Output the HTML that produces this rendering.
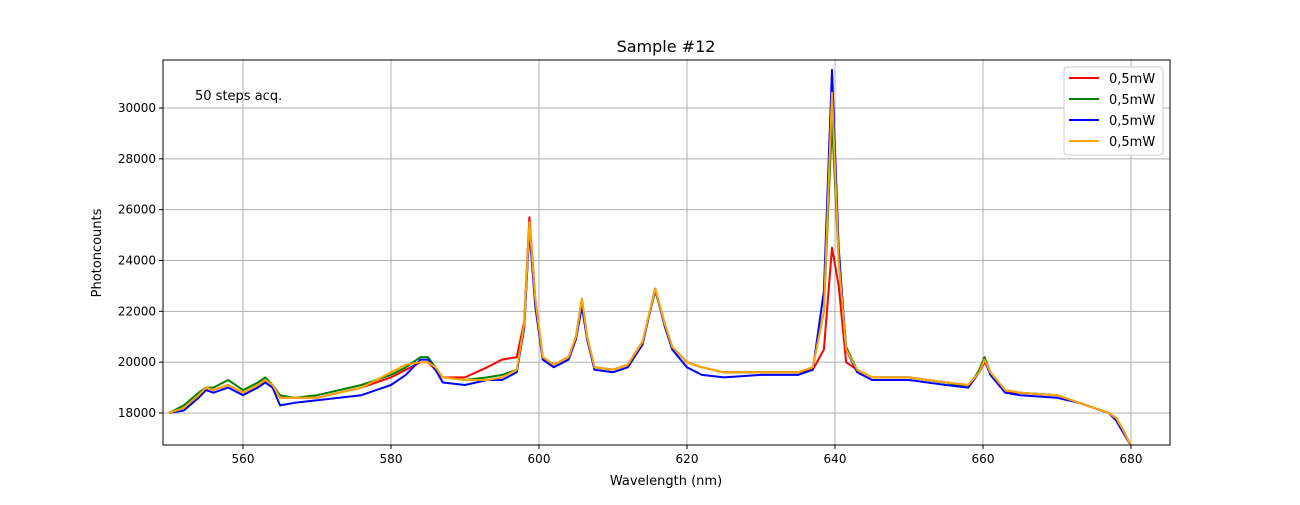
<!DOCTYPE html>
<html><head><meta charset="utf-8"><style>
body{margin:0;background:#fff;font-family:"Liberation Sans","DejaVu Sans",sans-serif}
svg text{font-family:"DejaVu Sans","Liberation Sans",sans-serif}
</style></head><body>
<svg id="chart" width="1300" height="500">
<rect x="0" y="0" width="1300" height="500" fill="#fff"/>
<g id="grid"></g><g id="series"></g><g id="axes"></g>
<text x="666" y="52" font-size="16" text-anchor="middle">Sample #12</text>
<text x="666" y="485" font-size="13" text-anchor="middle">Wavelength (nm)</text>
<text x="101" y="253" font-size="13" text-anchor="middle" transform="rotate(-90 101 253)">Photoncounts</text>
<text x="195" y="100" font-size="13">50 steps acq.</text>
<g id="legend"></g>
</svg>
<script>
const wl=[550,552,554,555,556,558,560,562,563,564,565,567,570,573,576,578,580,582,584,585,586,587,590,593,595,597,598,598.7,599.5,600.5,602,604,605,605.8,606.5,607.5,610,612,614,615.7,617,618,620,622,625,630,635,637,638.5,639.6,640.5,641.5,643,645,650,655,658,659.5,660.2,661,663,665,670,673,675,677,678,679,680];
const redVals=[18000,18200,18700,19000,18900,19100,18800,19100,19300,19100,18600,18600,18600,18800,19000,19200,19400,19700,20000,20000,19700,19400,19400,19800,20100,20200,21600,25700,22500,20200,19900,20200,21000,22400,21000,19800,19700,19900,20800,22900,21500,20600,20000,19800,19600,19600,19600,19700,20500,24500,23000,20000,19700,19400,19400,19200,19100,19600,20000,19600,18800,18800,18700,18400,18200,18000,17800,17300,16700];
const greenVals=[18000,18300,18800,19000,19000,19300,18900,19200,19400,19100,18700,18600,18700,18900,19100,19300,19500,19800,20200,20200,19800,19400,19300,19400,19500,19700,21300,25400,22300,20200,19900,20200,21000,22500,21000,19800,19700,19900,20800,22800,21500,20600,20000,19800,19600,19600,19600,19800,22000,29500,24000,20600,19700,19400,19400,19200,19000,19700,20200,19600,18900,18800,18700,18400,18200,18000,17800,17300,16700];
const blueVals=[18000,18100,18600,18900,18800,19000,18700,19000,19200,19000,18300,18400,18500,18600,18700,18900,19100,19500,20100,20100,19700,19200,19100,19300,19300,19600,21400,25200,22200,20100,19800,20100,20900,22200,20900,19700,19600,19800,20700,22900,21400,20500,19800,19500,19400,19500,19500,19700,22800,31500,24500,20500,19600,19300,19300,19100,19000,19600,20100,19500,18800,18700,18600,18400,18200,18000,17700,17200,16700];
const orangeVals=[18000,18200,18700,19000,18900,19100,18800,19100,19300,19100,18600,18600,18600,18800,19000,19300,19600,19900,20000,20000,19800,19400,19300,19300,19400,19700,21500,25500,22500,20200,19900,20200,21000,22500,21000,19800,19700,19900,20800,22900,21500,20600,20000,19800,19600,19600,19600,19800,22000,30600,24000,20500,19700,19400,19400,19200,19100,19600,20100,19600,18900,18800,18700,18400,18200,18000,17800,17300,16700];
const seriesNames=["0,5mW","0,5mW","0,5mW","0,5mW"];
const seriesColors=["red","green","blue","orange"];
const xTicks=[560,580,600,620,640,660,680];
const yTicks=[18000,20000,22000,24000,26000,28000,30000];
const L=163,R=1170,T=60,B=445;
const X=v=>243+(v-560)*(1131-243)/120;
const Y=v=>413-(v-18000)*(413-108)/12000;
const NS="http://www.w3.org/2000/svg";
function mk(t,a,p){const e=document.createElementNS(NS,t);for(const k in a)e.setAttribute(k,a[k]);p.appendChild(e);return e;}
const grid=document.getElementById('grid'),axes=document.getElementById('axes'),ser=document.getElementById('series'),leg=document.getElementById('legend');
xTicks.forEach(t=>{const x=X(t);
const g=mk('line',{x1:x,x2:x,y1:T,y2:B,stroke:'#b0b0b0','stroke-width':1},grid);


mk('line',{x1:x,x2:x,y1:B,y2:B+4,stroke:'#000'},axes);
const tx=mk('text',{x:x,y:B+18,'font-size':12,'text-anchor':'middle'},axes);tx.textContent=t;

});
yTicks.forEach(t=>{const y=Y(t);
const g=mk('line',{x1:L,x2:R,y1:y,y2:y,stroke:'#b0b0b0','stroke-width':1},grid);


mk('line',{x1:L-4,x2:L,y1:y,y2:y,stroke:'#000'},axes);
const tx=mk('text',{x:L-7,y:y+4,'font-size':12,'text-anchor':'end'},axes);tx.textContent=t;

});
const fr=mk('rect',{x:L,y:T,width:R-L,height:B-T,fill:'none',stroke:'#000'},axes);


const cp=mk('clipPath',{id:'cp'},ser);mk('rect',{x:L,y:T,width:R-L,height:B-T},cp);
[redVals,greenVals,blueVals,orangeVals].forEach((vals,i)=>{
const d=vals.map((v,j)=>(j?'L':'M')+X(wl[j]).toFixed(1)+','+Y(v).toFixed(1)).join('');
const p=mk('path',{d:d,fill:'none',stroke:seriesColors[i],'stroke-width':2,'clip-path':'url(#cp)','stroke-linejoin':'round'},ser);

});
const lb=mk('rect',{x:1064,y:67,width:99,height:88,rx:3,fill:'#fff',stroke:'#ccc'},leg);


seriesNames.forEach((n,i)=>{const y=78+i*21;
mk('line',{x1:1069,x2:1099,y1:y,y2:y,stroke:seriesColors[i],'stroke-width':2},leg);
const tx=mk('text',{x:1109,y:y+5,'font-size':13},leg);tx.textContent=n;

});
</script>
</body></html>
